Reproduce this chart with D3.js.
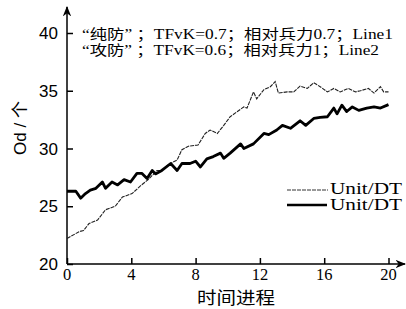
<!DOCTYPE html>
<html>
<head>
<meta charset="utf-8">
<script src="https://cdn.jsdelivr.net/npm/d3@7"></script>
<style>
  body { margin: 0; background: #fff; }
  svg { display: block; }
</style>
</head>
<body>
<svg id="chart" width="406" height="309"></svg>
<script>
// Line1 (thin): "纯防"
const line1Time = [0, 0.75, 1.03, 1.37, 1.9, 2.4, 3.0, 3.45, 4.05, 4.6, 5.05, 5.6, 5.9, 6.3, 6.85, 7.15, 7.55, 8.15, 8.6, 8.9,
  9.35, 9.75, 10.15, 10.6, 11.0, 11.2, 11.6, 11.8, 12.25, 12.65, 12.95, 13.15, 13.7, 14.1, 14.5, 14.95, 15.35, 15.75,
  16.2, 16.6, 17.0, 17.5, 17.95, 18.25, 18.75, 19.1, 19.5, 19.7, 20.0];
const line1Value = [22.2, 22.8, 22.9, 23.5, 23.8, 24.7, 25.0, 25.8, 26.1, 26.8, 27.3, 28.1, 28.1, 28.6, 29.0, 29.9, 30.2, 30.3, 31.3, 31.6,
  31.3, 32.0, 32.75, 33.2, 33.6, 33.5, 34.9, 34.3, 35.1, 35.35, 35.8, 34.8, 34.9, 34.9, 35.4, 35.2, 35.7, 35.35,
  34.9, 35.2, 34.9, 35.2, 34.9, 35.0, 35.2, 34.8, 35.35, 34.9, 34.9];

// Line2 (thick): "攻防"
const line2Time = [0, 0.55, 0.85, 1.15, 1.45, 1.8, 2.2, 2.4, 2.8, 3.15, 3.55, 3.95, 4.35, 4.65, 4.98, 5.3, 5.5, 5.9, 6.45, 6.85,
  7.15, 7.65, 8.0, 8.3, 8.7, 9.1, 9.55, 9.75, 10.15, 10.8, 11.0, 11.6, 12.25, 12.55, 13.05, 13.4, 13.9, 14.5, 14.85,
  15.35, 15.75, 16.2, 16.6, 16.8, 17.1, 17.4, 17.75, 18.15, 18.65, 19.1, 19.5, 20.0];
const line2Value = [26.3, 26.3, 25.7, 26.1, 26.4, 26.55, 27.1, 26.55, 27.1, 26.85, 27.3, 27.1, 27.85, 27.85, 27.4, 28.1, 27.8, 28.1, 28.7, 28.1,
  28.7, 28.7, 28.9, 28.4, 29.1, 29.3, 29.6, 29.15, 29.6, 30.4, 30.0, 30.4, 31.3, 31.2, 31.6, 32.0, 31.75, 32.4, 32.0,
  32.6, 32.7, 32.75, 33.5, 33.0, 33.75, 33.2, 33.6, 33.3, 33.5, 33.6, 33.5, 33.8];

const xTicks = [0, 4, 8, 12, 16, 20];
const yTicks = [20, 25, 30, 35, 40];
const notes = ["“纯防” ；TFvK=0.7；相对兵力0.7；Line1", "“攻防” ；TFvK=0.6；相对兵力1；Line2"];
const legendLabels = ["Unit/DT", "Unit/DT"];

const svg = d3.select("#chart");
const x = d3.scaleLinear().domain([0, 20]).range([67, 388.5]);
const y = d3.scaleLinear().domain([20, 40]).range([264, 33]);

const serif = "'Liberation Serif', 'Noto Sans CJK SC', serif";

svg.append("defs").append("marker")
  .attr("id", "arrow")
  .attr("viewBox", "0 0 10 10")
  .attr("refX", 9).attr("refY", 5)
  .attr("markerWidth", 7).attr("markerHeight", 7)
  .attr("orient", "auto")
  .append("path")
  .attr("d", "M0,1 L10,5 L0,9 L3,5 Z")
  .attr("fill", "#000");

// axes lines with arrows
svg.append("line")
  .attr("x1", x(0)).attr("y1", y(20)).attr("x2", x(0)).attr("y2", 7)
  .attr("stroke", "#000").attr("stroke-width", 1.5)
  .attr("marker-end", "url(#arrow)");
svg.append("line")
  .attr("x1", x(0)).attr("y1", y(20)).attr("x2", 405).attr("y2", y(20))
  .attr("stroke", "#000").attr("stroke-width", 1.5)
  .attr("marker-end", "url(#arrow)");

// y ticks (inward) and labels
const yAxis = svg.append("g")
  .attr("transform", `translate(${x(0)},0)`)
  .call(d3.axisRight(y).tickValues(yTicks).tickSize(6).tickFormat(""));
yAxis.select(".domain").remove();
yAxis.selectAll("line").attr("stroke-width", 1.5);

svg.selectAll(".ylab")
  .data(yTicks)
  .join("text")
  .attr("class", "ylab")
  .attr("x", 58)
  .attr("y", d => y(d))
  .attr("dy", "0.36em")
  .attr("text-anchor", "end")
  .attr("font-family", "'Liberation Sans', Arial, sans-serif")
  .attr("font-size", 17)
  .text(d => d);

// x ticks (inward) and labels
const xAxis = svg.append("g")
  .attr("transform", `translate(0,${y(20)})`)
  .call(d3.axisTop(x).tickValues(xTicks).tickSize(6).tickFormat(""));
xAxis.select(".domain").remove();
xAxis.selectAll("line").attr("stroke-width", 1.5);

svg.selectAll(".xlab")
  .data(xTicks)
  .join("text")
  .attr("class", "xlab")
  .attr("x", d => x(d))
  .attr("y", 274)
  .attr("dy", "0.35em")
  .attr("text-anchor", "middle")
  .attr("font-family", serif)
  .attr("font-size", 16.5)
  .text(d => d);

// axis titles
svg.append("text")
  .attr("x", 236).attr("y", 298)
  .attr("dy", "0.35em")
  .attr("text-anchor", "middle")
  .attr("font-family", "'Noto Sans CJK SC', sans-serif")
  .attr("font-size", 17)
  .attr("textLength", 78)
  .attr("lengthAdjust", "spacingAndGlyphs")
  .text("时间进程");

svg.append("text")
  .attr("transform", "translate(20,128) rotate(-90)")
  .attr("dy", "0.35em")
  .attr("text-anchor", "middle")
  .attr("font-family", "'Liberation Sans', 'Noto Sans CJK SC', sans-serif")
  .attr("font-size", 17)
  .text("Od / 个");

// lines
const pts1 = line1Time.map((t, i) => [t, line1Value[i]]);
const pts2 = line2Time.map((t, i) => [t, line2Value[i]]);
const line = d3.line().x(d => x(d[0])).y(d => y(d[1]));

svg.append("path")
  .attr("d", line(pts1))
  .attr("fill", "none")
  .attr("stroke", "#222")
  .attr("stroke-width", 1.1)
  .attr("stroke-dasharray", "4,1");

svg.append("path")
  .attr("d", line(pts2))
  .attr("fill", "none")
  .attr("stroke", "#000")
  .attr("stroke-width", 2.8)
  .attr("stroke-linejoin", "round");

// annotation text
svg.selectAll(".note")
  .data(notes)
  .join("text")
  .attr("class", "note")
  .attr("x", 82)
  .attr("y", (d, i) => 39 + i * 16)
  .attr("font-family", serif)
  .attr("font-size", 14)
  .attr("textLength", (d, i) => i === 0 ? 311 : 297)
  .attr("lengthAdjust", "spacingAndGlyphs")
  .text(d => d);

// legend
const legend = svg.append("g");
legend.append("line")
  .attr("x1", 287).attr("x2", 328).attr("y1", 190).attr("y2", 190)
  .attr("stroke", "#333").attr("stroke-width", 1)
  .attr("stroke-dasharray", "4,1");
legend.append("line")
  .attr("x1", 287).attr("x2", 327).attr("y1", 205).attr("y2", 205)
  .attr("stroke", "#000").attr("stroke-width", 2.6);
legend.selectAll("text")
  .data(legendLabels)
  .join("text")
  .attr("x", 330)
  .attr("y", (d, i) => 188 + i * 16)
  .attr("dy", "0.35em")
  .attr("font-family", serif)
  .attr("font-size", 16)
  .attr("textLength", 72)
  .attr("lengthAdjust", "spacingAndGlyphs")
  .text(d => d);
</script>
</body>
</html>
